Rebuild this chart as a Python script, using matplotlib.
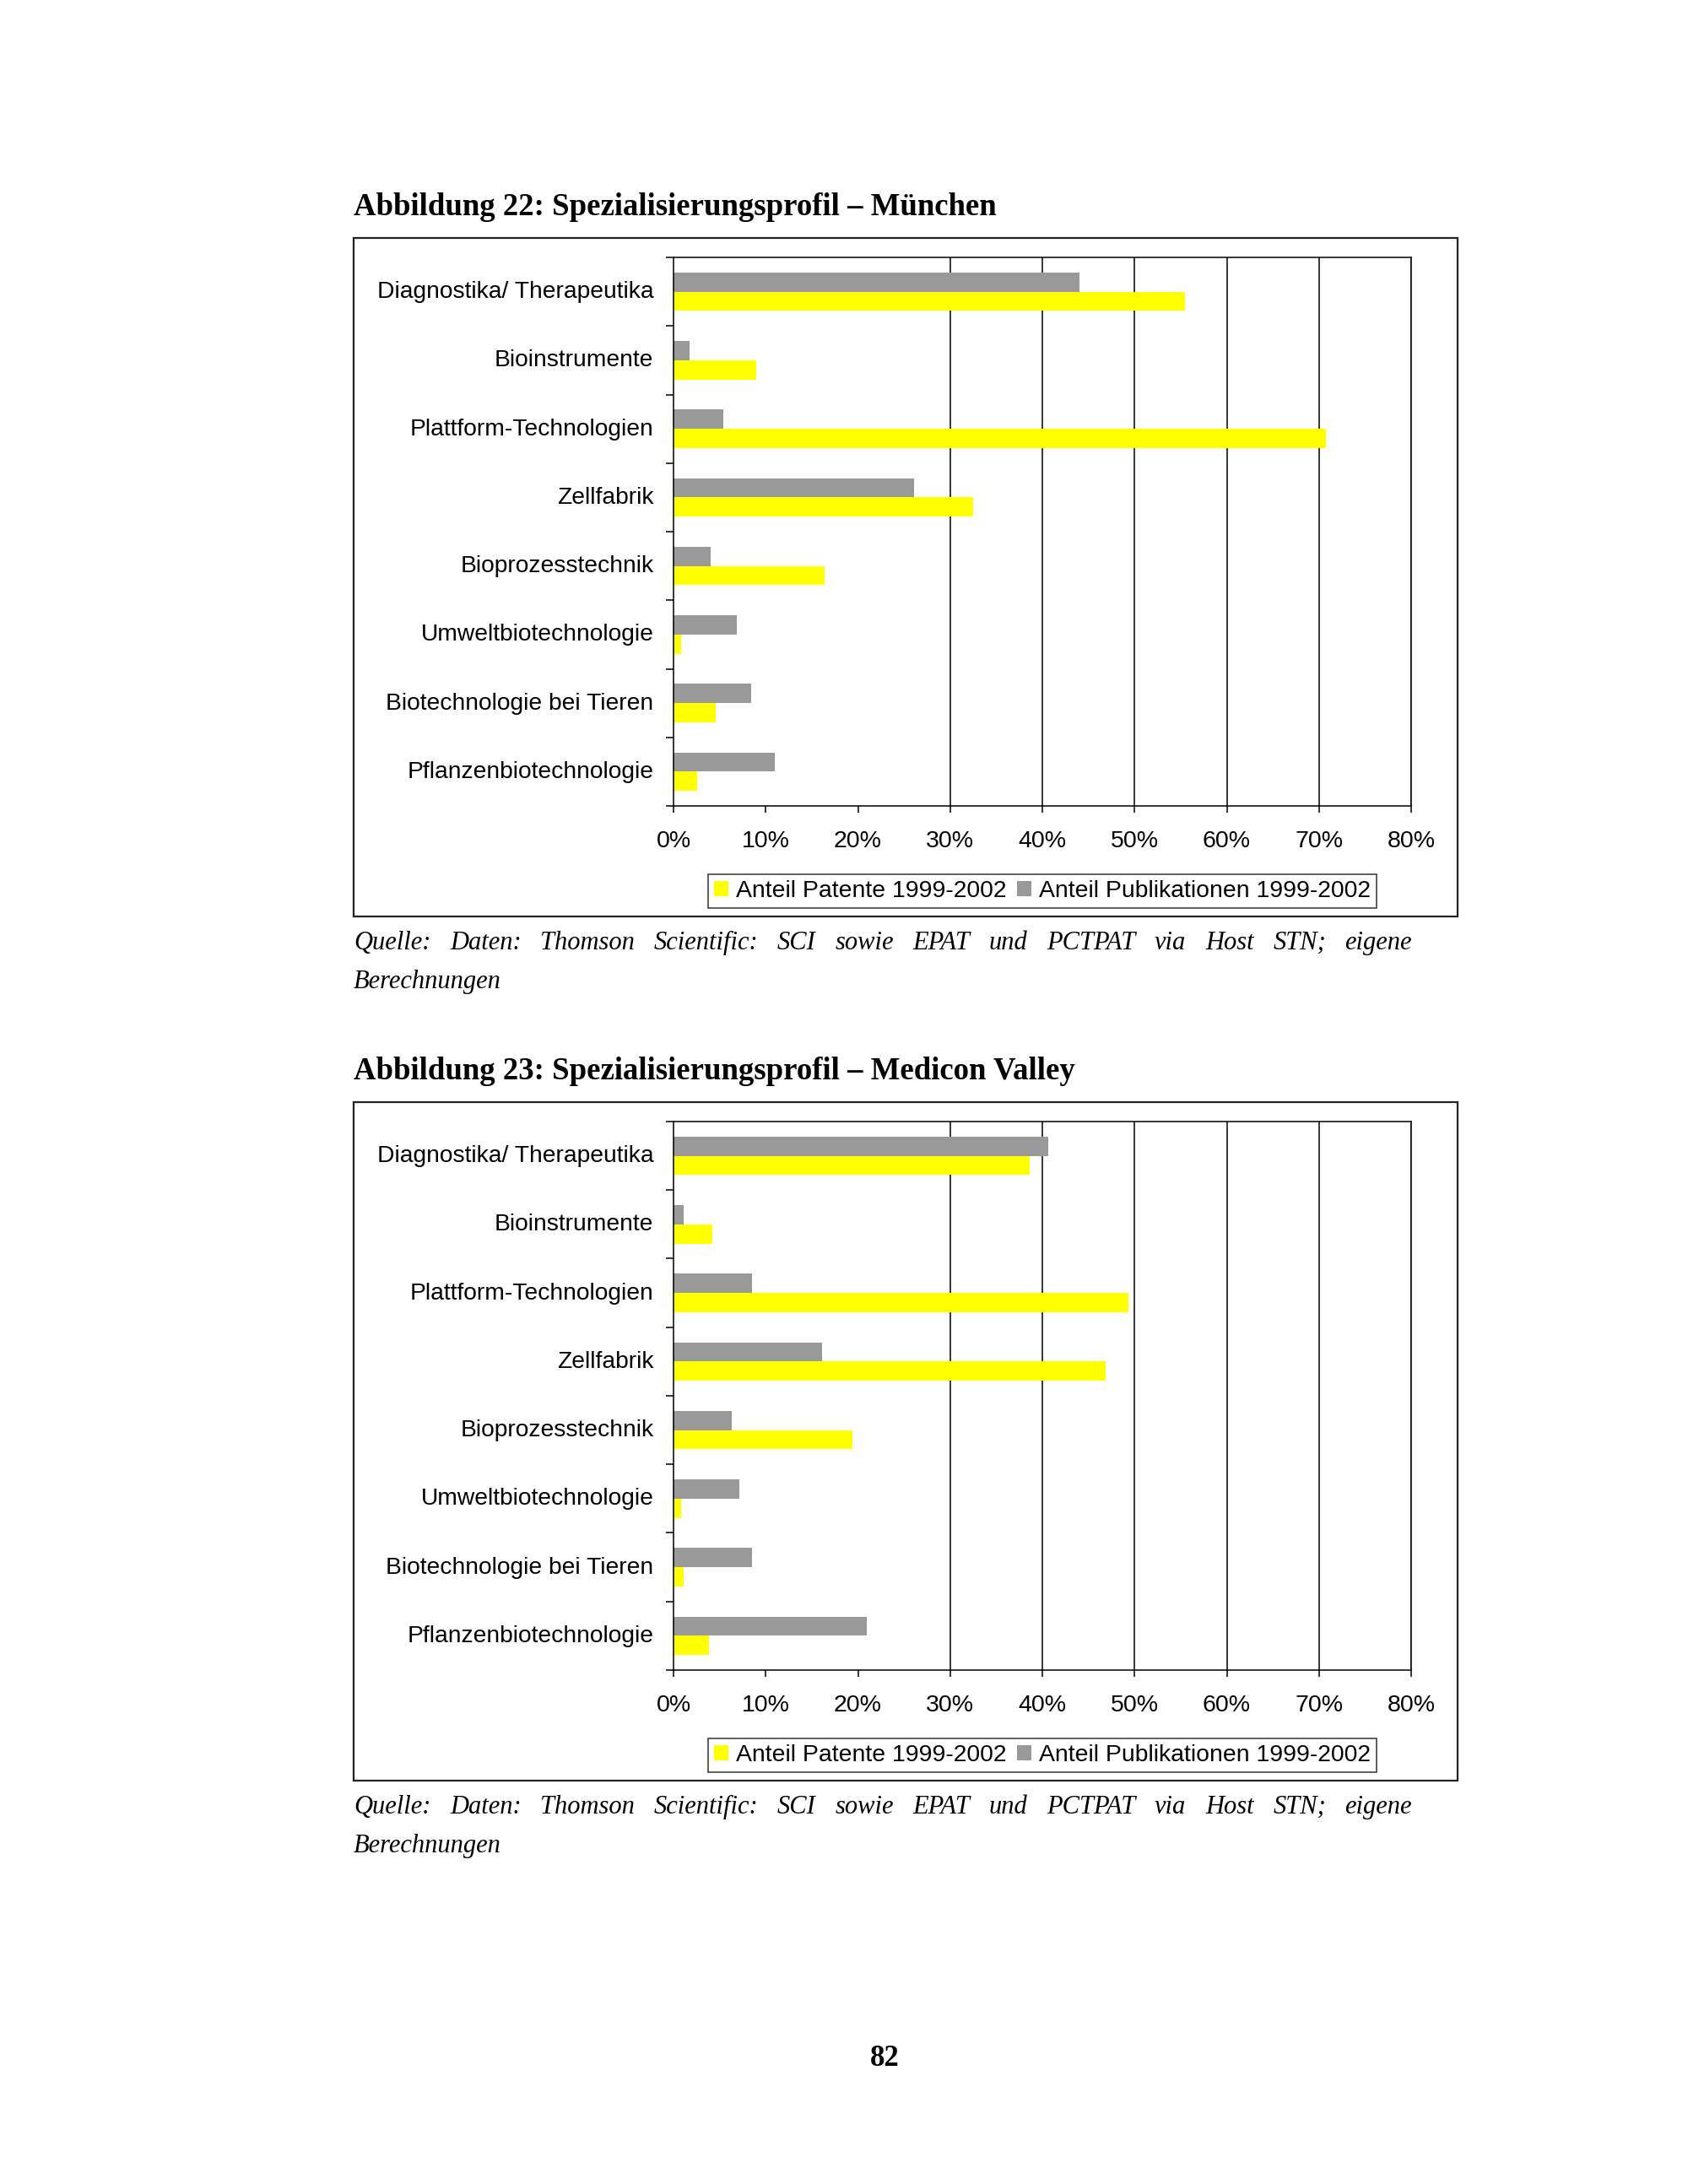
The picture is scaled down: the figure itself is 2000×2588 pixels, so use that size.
import matplotlib.pyplot as plt
import matplotlib.patches as mpatches
import numpy as np

# Kategorien und Werte (Anteile in %)
categories = ['Diagnostika/ Therapeutika', 'Bioinstrumente', 'Plattform-Technologien',
              'Zellfabrik', 'Bioprozesstechnik', 'Umweltbiotechnologie',
              'Biotechnologie bei Tieren', 'Pflanzenbiotechnologie']

muc_patente = [55.5, 9.0, 70.8, 32.5, 16.4, 0.8, 4.6, 2.6]
muc_publikationen = [44.0, 1.7, 5.4, 26.1, 4.0, 6.9, 8.4, 11.0]

mv_patente = [38.6, 4.2, 49.3, 46.9, 19.4, 0.8, 1.1, 3.8]
mv_publikationen = [40.6, 1.1, 8.5, 16.1, 6.3, 7.1, 8.5, 21.0]

xticks = [0, 10, 20, 30, 40, 50, 60, 70, 80]
xticklabels = ['0%', '10%', '20%', '30%', '40%', '50%', '60%', '70%', '80%']

label_pat = 'Anteil Patente 1999-2002'
label_pub = 'Anteil Publikationen 1999-2002'
titles = ['Abbildung 22: Spezialisierungsprofil \u2013 M\u00fcnchen',
          'Abbildung 23: Spezialisierungsprofil \u2013 Medicon Valley']
source_line = 'Quelle: Daten: Thomson Scientific: SCI sowie EPAT und PCTPAT via Host STN; eigene'
source_line2 = 'Berechnungen'

YELLOW = '#FFFF00'
GREY = '#999999'
W, H = 2000, 2588

fig = plt.figure(figsize=(W / 100, H / 100), dpi=100)
renderer = fig.canvas.get_renderer()


def fx(px):
    return px / W


def fy(py):
    return 1 - py / H


def justified(words, x0, x1, y, **kw):
    texts = [fig.text(0, fy(y), w, **kw) for w in words]
    widths = [t.get_window_extent(renderer).width for t in texts]
    gap = (x1 - x0 - sum(widths)) / (len(words) - 1)
    x = x0
    for t, w in zip(texts, widths):
        t.set_x(fx(x))
        x += w + gap


def panel(off, title, pat, pub):
    # Überschrift
    fig.text(fx(419), fy(255 + off), title, family='Liberation Serif',
             fontweight='bold', fontsize=26.5, va='baseline', ha='left')
    # Rahmen
    fig.patches.append(mpatches.Rectangle((fx(419), fy(1086 + off)), fx(1727) - fx(419),
                                          fy(282) - fy(1086), transform=fig.transFigure,
                                          fill=False, lw=1.6, ec='#222222'))
    ax = fig.add_axes([fx(798), fy(955 + off), fx(1672) - fx(798), fy(305) - fy(955)])
    y = np.arange(len(categories))
    ax.barh(y - 0.14, pub, height=0.28, color=GREY, label=label_pub)
    ax.barh(y + 0.14, pat, height=0.28, color=YELLOW, label=label_pat)
    ax.set_ylim(len(categories) - 0.5, -0.5)
    ax.set_xlim(0, 80)
    ax.set_xticks(xticks)
    ax.set_xticklabels(xticklabels, family='Liberation Sans', fontsize=20.5)
    ax.set_yticks(y - 0.03)
    ax.set_yticklabels(categories, family='Liberation Sans', fontsize=20.3)
    ax.set_yticks(np.arange(-0.5, len(categories)), minor=True)
    ax.tick_params(axis='y', which='major', length=0, pad=17)
    ax.tick_params(axis='y', which='minor', length=6.5, width=1.1, direction='out')
    ax.tick_params(axis='x', length=6, width=1.1, direction='out', pad=15)
    for s in ax.spines.values():
        s.set_linewidth(1.1)
    ax.set_axisbelow(True)
    ax.grid(axis='x', color='black', lw=1.1)
    for gl in ax.get_xgridlines()[:3]:
        gl.set_visible(False)
    h, l = ax.get_legend_handles_labels()
    leg = fig.legend(h[::-1], l[::-1], loc='center', ncol=2,
                     bbox_to_anchor=(fx(1235), fy(1056 + off)),
                     prop={'family': 'Liberation Sans', 'size': 20.4},
                     frameon=True, fancybox=False, shadow=False,
                     handlelength=0.6, handleheight=0.58, handletextpad=0.3,
                     columnspacing=0.45, borderpad=0.25, borderaxespad=0)
    leg.get_frame().set_edgecolor('black')
    leg.get_frame().set_linewidth(1.1)
    # Quelle
    justified(source_line.split(), 419, 1673, 1125 + off, family='Liberation Serif',
              style='italic', fontsize=22, va='baseline')
    fig.text(fx(419), fy(1171 + off), source_line2, family='Liberation Serif',
             style='italic', fontsize=22, va='baseline')


panel(0, titles[0], muc_patente, muc_publikationen)
panel(1024, titles[1], mv_patente, mv_publikationen)

fig.text(fx(1048), fy(2448), '82', family='Liberation Serif', fontweight='bold',
         fontsize=25, ha='center', va='baseline')

fig.savefig('out.png', dpi=100, facecolor='white')
